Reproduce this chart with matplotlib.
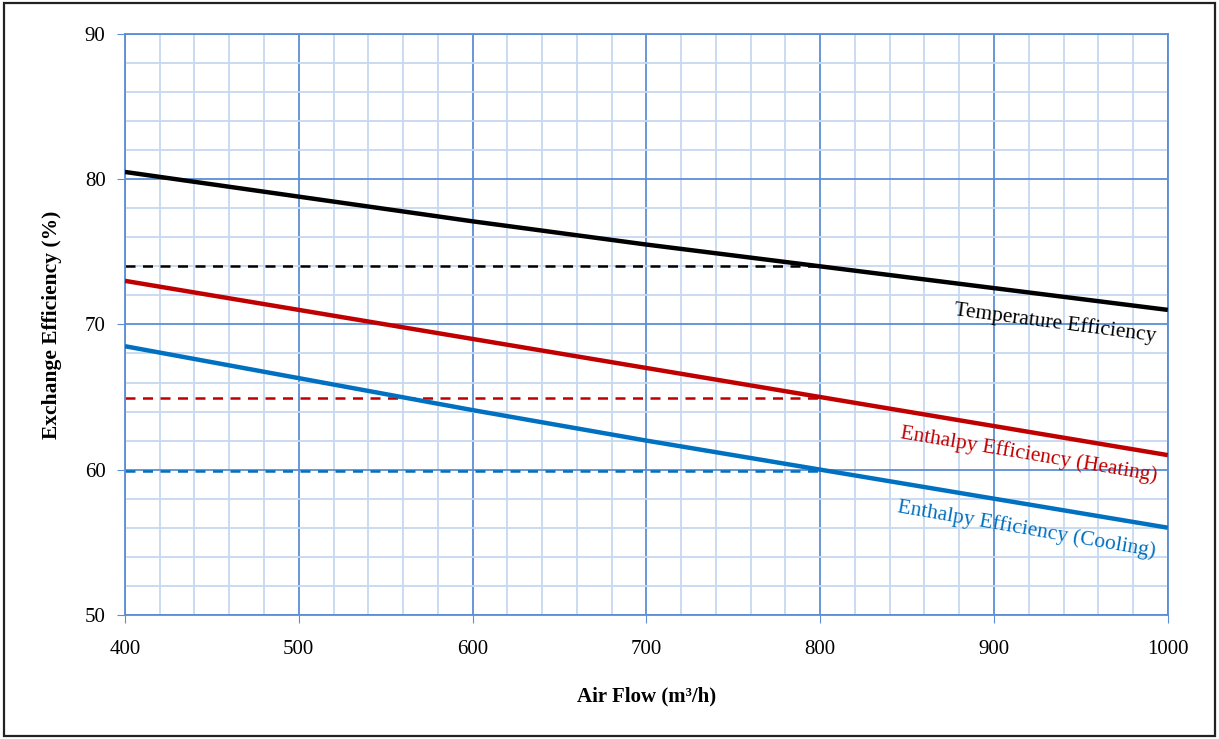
import matplotlib
matplotlib.use("Agg")
import matplotlib.pyplot as plt
from matplotlib.patches import Rectangle
from matplotlib.ticker import MultipleLocator

plt.rcParams['font.family'] = ['Liberation Serif', 'DejaVu Serif']

airflow = [400, 500, 600, 700, 800, 900, 1000]
temp_eff = [80.5, 78.8, 77.1, 75.5, 74.0, 72.5, 71.0]
heat_eff = [73.0, 71.0, 69.0, 67.0, 65.0, 63.0, 61.0]
cool_eff = [68.5, 66.3, 64.1, 62.0, 60.0, 58.0, 56.0]

ref_x = [400, 800]
ref_temp = 74.0
ref_heat = 64.9
ref_cool = 59.9

labels = ["Temperature Efficiency", "Enthalpy Efficiency (Heating)", "Enthalpy Efficiency (Cooling)"]
colors = ["#000000", "#C00000", "#0070C0"]

fig = plt.figure(figsize=(12.19, 7.39), dpi=100)
ax = fig.add_axes([0.1025, 0.168, 0.8555, 0.786])

ax.set_xlim(400, 1000)
ax.set_ylim(50, 90)
ax.xaxis.set_major_locator(MultipleLocator(100))
ax.xaxis.set_minor_locator(MultipleLocator(20))
ax.yaxis.set_major_locator(MultipleLocator(10))
ax.yaxis.set_minor_locator(MultipleLocator(2))
ax.grid(which='minor', color='#C6D9F1', lw=1.3, zorder=0)
ax.grid(which='major', color='#5B8ED6', lw=1.3, zorder=0)
ax.set_axisbelow(True)
for s in ax.spines.values():
    s.set_color('#5B8ED6')
    s.set_linewidth(1.3)
ax.tick_params(which='major', direction='out', length=6, color='#5B8ED6', labelsize=15, pad=8)
ax.tick_params(which='minor', length=0)
ax.tick_params(axis='x', pad=12)

series = [temp_eff, heat_eff, cool_eff]
refs = [ref_temp, ref_heat, ref_cool]
for vals, ref, c in zip(series, refs, colors):
    ax.plot(airflow, vals, color=c, lw=3.2, solid_capstyle='butt', zorder=3)
    ax.plot(ref_x, [ref, ref], color=c, lw=1.8, ls=(0, (4, 3)), zorder=2)

ax.text(935, 70.1, labels[0], color=colors[0], fontsize=15.5, rotation=-7.4,
        ha='center', va='center', rotation_mode='anchor')
ax.text(920, 61.0, labels[1], color=colors[1], fontsize=15.5, rotation=-9.5,
        ha='center', va='center', rotation_mode='anchor')
ax.text(919, 55.85, labels[2], color=colors[2], fontsize=15.5, rotation=-9.8,
        ha='center', va='center', rotation_mode='anchor')

ax.set_xlabel("Air Flow (m³/h)", fontsize=15, fontweight='bold', labelpad=20)
ax.set_ylabel("Exchange Efficiency (%)", fontsize=15.5, fontweight='bold', labelpad=16)

fig.patches.append(Rectangle((0.003, 0.004), 0.994, 0.992, transform=fig.transFigure,
                             fill=False, edgecolor='#222222', lw=1.6))

fig.savefig("out.png", dpi=100)
